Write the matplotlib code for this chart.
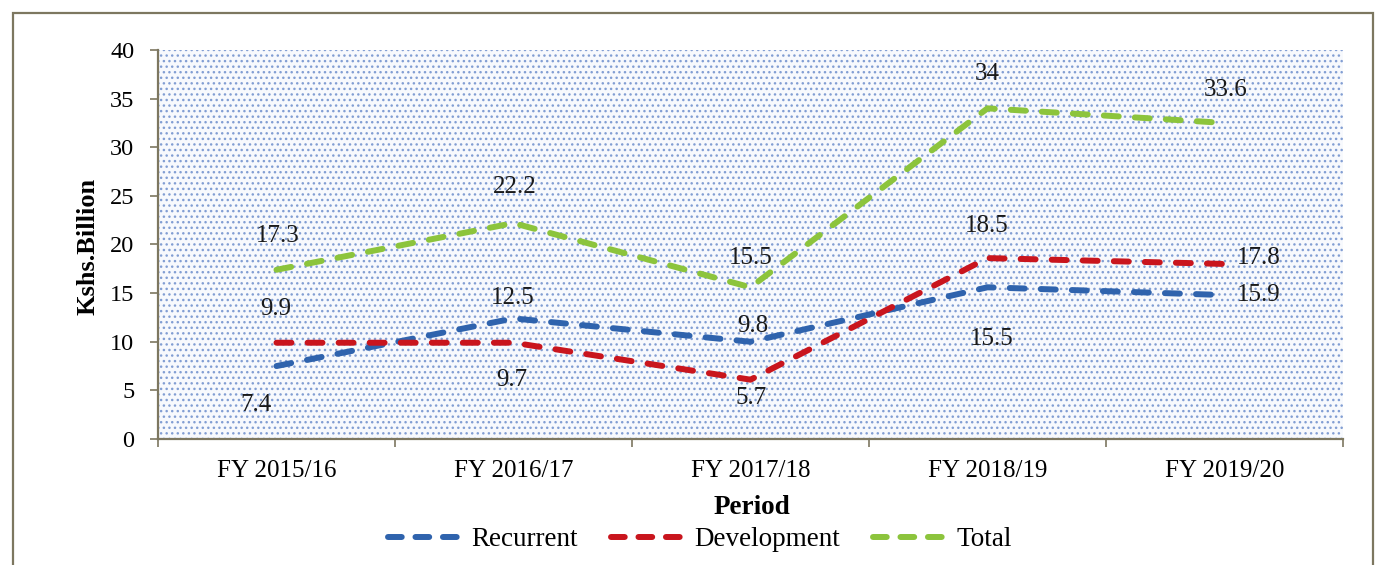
import matplotlib
matplotlib.use("Agg")
import matplotlib.pyplot as plt
from matplotlib.patches import Rectangle
from matplotlib.lines import Line2D

categories = ["FY 2015/16", "FY 2016/17", "FY 2017/18", "FY 2018/19", "FY 2019/20"]
recurrent = [7.5, 12.4, 10.0, 15.6, 14.8]
development = [9.9, 9.9, 6.1, 18.6, 18.0]
total = [17.4, 22.2, 15.6, 34.0, 32.5]
recurrent_labels = ["7.4", "12.5", "9.8", "15.5", "15.9"]
development_labels = ["9.9", "9.7", "5.7", "18.5", "17.8"]
total_labels = ["17.3", "22.2", "15.5", "34", "33.6"]
series_names = ["Recurrent", "Development", "Total"]
yticks = [0, 5, 10, 15, 20, 25, 30, 35, 40]

W, H = 1378, 565
fig = plt.figure(figsize=(W / 100, H / 100), dpi=100)
SERIF = ["Liberation Serif", "DejaVu Serif"]

# outer frame
fig.patches.append(Rectangle((13 / W, -0.05), (1373 - 13) / W, 1.05 - 13 / H,
                             transform=fig.transFigure, fill=False,
                             edgecolor="#7d7760", linewidth=1.6))

ax = fig.add_axes([158 / W, (H - 439) / H, (1343 - 158) / W, (439 - 50) / H])
ax.set_facecolor("white")
plt.rcParams["hatch.linewidth"] = 1.0
bg = Rectangle((0, 0), 1, 1, transform=ax.transAxes, facecolor="#f7f9fd",
               edgecolor="#829ed3", hatch="...", linewidth=0, zorder=0)
ax.add_patch(bg)

colors = ["#2f63ad", "#c9151d", "#8cc43c"]
x = list(range(len(categories)))
LW = 4.3
dash = (2.5, 2.7)
for vals, c in zip([recurrent, development, total], colors):
    ax.plot(x, vals, color=c, linewidth=LW, dashes=dash,
            dash_capstyle="round", solid_joinstyle="round", zorder=3)

# data labels (offsets in pixels)
rec_off = [(-20, -39), (-1, 20), (2, 16), (4, -52), (34, 0)]
dev_off = [(-1, 34), (-2, -37), (1, -18), (-1, 32), (34, 6)]
tot_off = [(1, 34), (1, 36), (0, 29), (0, 34), (1, 33)]
for vals, labs, offs in [(recurrent, recurrent_labels, rec_off),
                         (development, development_labels, dev_off),
                         (total, total_labels, tot_off)]:
    for xi, v, lab, (dx, dy) in zip(x, vals, labs, offs):
        ax.annotate(lab, (xi, v), xytext=(dx * 0.72, dy * 0.72),
                    textcoords="offset points", ha="center", va="center",
                    fontsize=18, family=SERIF, color="#1a1a1a", zorder=4)

ax.set_xlim(-0.5, len(categories) - 0.5)
ax.set_ylim(0, 40)
ax.set_yticks(yticks)
ax.set_yticklabels([str(t) for t in yticks], family=SERIF, fontsize=17.5)
ax.set_xticks([i - 0.5 for i in range(len(categories) + 1)])
ax.set_xticklabels([])
ax.set_xticks(x, minor=True)
ax.set_xticklabels(categories, minor=True, family=SERIF, fontsize=18)
ax.tick_params(axis="x", which="minor", length=0, pad=15)
ax.tick_params(axis="x", which="major", length=6, width=1.2, color="#7d7760", direction="out")
ax.tick_params(axis="y", length=6, width=1.2, color="#7d7760", direction="out", pad=11)
for s in ["top", "right"]:
    ax.spines[s].set_visible(False)
for s in ["left", "bottom"]:
    ax.spines[s].set_color("#7d7760")
    ax.spines[s].set_linewidth(1.6)

fig.text(88 / W, 1 - 246 / H, "Kshs.Billion", rotation=90, ha="center", va="center",
         family=SERIF, fontsize=19, fontweight="bold")
fig.text(752 / W, 1 - 508 / H, "Period", ha="center", va="center",
         family=SERIF, fontsize=19.5, fontweight="bold")

handles = [Line2D([0], [0], color=c, linewidth=LW, dashes=(2.3, 2.3),
                  dash_capstyle="round") for c in colors]
leg = fig.legend(handles, series_names, loc="center", bbox_to_anchor=(700 / W, 1 - 540 / H),
                 ncol=3, frameon=False, prop={"family": SERIF, "size": 19.5},
                 handlelength=2.8, handletextpad=0.3, columnspacing=1.2)

fig.savefig("out.png", dpi=100)
